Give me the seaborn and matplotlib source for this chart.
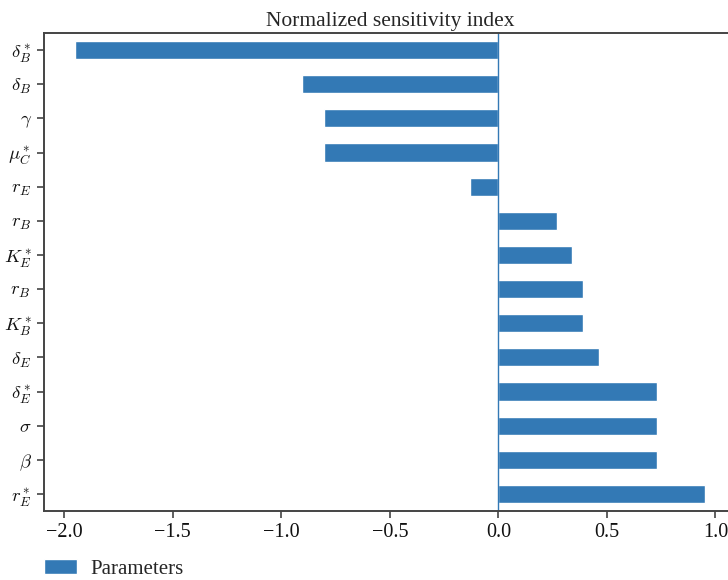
import matplotlib
matplotlib.use("Agg")
import matplotlib.pyplot as plt
import seaborn as sns
import pandas as pd

# Sensitivity indices, listed top to bottom
params = [r"$\delta_B^*$", r"$\delta_B$", r"$\gamma$", r"$\mu_C^*$", r"$r_E$",
          r"$r_B$", r"$K_E^*$", r"$r_B$ ", r"$K_B^*$", r"$\delta_E$",
          r"$\delta_E^*$", r"$\sigma$", r"$\beta$", r"$r_E^*$"]
index_values = [-1.95, -0.903, -0.802, -0.802, -0.129,
                0.272, 0.341, 0.392, 0.392, 0.465,
                0.733, 0.733, 0.733, 0.954]
x_ticks = [-2.0, -1.5, -1.0, -0.5, 0.0, 0.5, 1.0]

bar_color = "#3379b5"

sns.set_style("ticks")
plt.rcParams["font.family"] = ["Liberation Serif", "DejaVu Serif"]
plt.rcParams["mathtext.fontset"] = "cm"
plt.rcParams["axes.edgecolor"] = "#444444"
plt.rcParams["axes.linewidth"] = 1.4
plt.rcParams["xtick.color"] = "#444444"
plt.rcParams["ytick.color"] = "#444444"
plt.rcParams["xtick.labelcolor"] = "#111111"
plt.rcParams["ytick.labelcolor"] = "#111111"

df = pd.DataFrame({"param": params, "value": index_values})

fig = plt.figure(figsize=(7.28, 5.80), dpi=100)
ax = fig.add_axes([43.5 / 728, 1 - 511 / 580, (737 - 43.5) / 728, (511 - 33) / 580])

sns.barplot(data=df, x="value", y="param", orient="h", color=bar_color,
            saturation=1, width=0.53, ax=ax, label="Parameters")
ax.axvline(0, color=bar_color, linewidth=1.0)

span = max(index_values) - min(index_values)
ax.set_xlim(min(index_values) - 0.05 * span, max(index_values) + 0.05 * span)
ax.set_xticks(x_ticks)
ax.set_xticklabels([f"{t:.1f}".replace("-", "\u2212") for t in x_ticks])
ax.set_xlabel("")
ax.set_ylabel("")
ax.set_title("Normalized sensitivity index", fontsize=15.5, pad=5)
ax.tick_params(axis="x", labelsize=14.5, length=5, width=1.2)
ax.tick_params(axis="y", labelsize=13.5, length=5, width=1.2)
for s in ax.spines.values():
    s.set_visible(True)

ax.legend(loc="upper left", bbox_to_anchor=(-0.012, -0.084), frameon=False,
          fontsize=15, handlelength=1.63, handleheight=0.72, borderaxespad=0,
          handletextpad=0.63)

fig.savefig("out.png", dpi=100)
